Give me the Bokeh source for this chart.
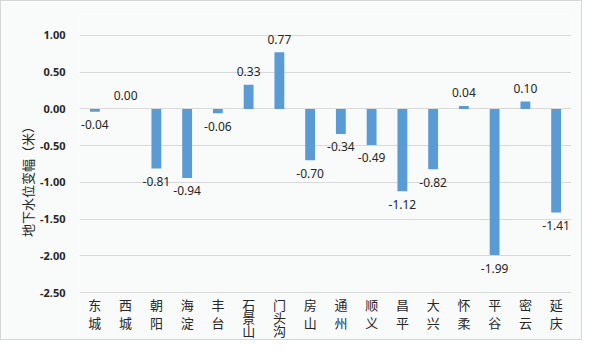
from bokeh.plotting import figure
from bokeh.models import FactorRange, Range1d, FixedTicker
from bokeh.core.properties import value
from bokeh.embed import file_html
from bokeh.resources import INLINE

districts = ["东城", "西城", "朝阳", "海淀", "丰台", "石景山", "门头沟", "房山",
             "通州", "顺义", "昌平", "大兴", "怀柔", "平谷", "密云", "延庆"]
changes = [-0.04, 0.00, -0.81, -0.94, -0.06, 0.33, 0.77, -0.70,
           -0.34, -0.49, -1.12, -0.82, 0.04, -1.99, 0.10, -1.41]
y_ticks = [-2.5, -2.0, -1.5, -1.0, -0.5, 0.0, 0.5, 1.0]

BG = "#f9fafa"
p = figure(width=582, height=340, output_backend="svg", toolbar_location=None,
           x_range=FactorRange(*districts, range_padding=0),
           y_range=Range1d(-3.167, 1.272),
           min_border_left=78, min_border_right=12, min_border_top=14, min_border_bottom=0,
           background_fill_color=BG, border_fill_color=BG)
p.styles = {"border": "1px solid #d6d6d6"}
p.outline_line_color = None

p.vbar(x=districts, top=changes, width=0.32, fill_color="#5b9bd5", line_color=None)

# value labels
lab_y_off = [-13 if v >= 0 else 13 for v in changes]
lab_txt = ["%.2f" % v for v in changes]
p.text(x=districts, y=changes, text=lab_txt, y_offset=lab_y_off, text_align="center",
       text_baseline="middle", text_font=value("Noto Sans"), text_font_size="12px",
       text_color="#262626")

# vertical category labels
cx, cy, ct, co = [], [], [], []
for d in districts:
    step = 18 if len(d) <= 2 else 13
    for i, ch in enumerate(d):
        cx.append(d)
        cy.append(y_ticks[0])
        ct.append(ch)
        co.append(12 + i * step)
p.text(x=cx, y=cy, text=ct, y_offset=co, text_align="center", text_baseline="middle",
       text_font=value("Noto Sans CJK SC"), text_font_size="13px", text_color="#262626")

p.xaxis.visible = False
p.xgrid.grid_line_color = None
p.ygrid.ticker = FixedTicker(ticks=y_ticks)
p.ygrid.grid_line_color = "#d9d9d9"
p.ygrid.grid_line_width = 1

ax = p.yaxis[0]
ax.ticker = FixedTicker(ticks=y_ticks)
ax.major_label_overrides = {t: "%.2f" % t for t in y_ticks}
ax.axis_line_color = None
ax.major_tick_line_color = None
ax.minor_tick_line_color = None
ax.major_tick_out = 0
ax.major_tick_in = 0
ax.major_label_standoff = 14
ax.major_label_text_font = "Noto Sans"
ax.major_label_text_font_style = "bold"
ax.major_label_text_font_size = "11px"
ax.major_label_text_color = "#262626"
ax.axis_label = "地下水位变幅（米）"
ax.axis_label_text_font = "Noto Sans CJK SC"
ax.axis_label_text_font_style = "normal"
ax.axis_label_text_font_size = "13px"
ax.axis_label_text_color = "#262626"
ax.axis_label_standoff = 0

open("out.html", "w").write(file_html(p, INLINE))
